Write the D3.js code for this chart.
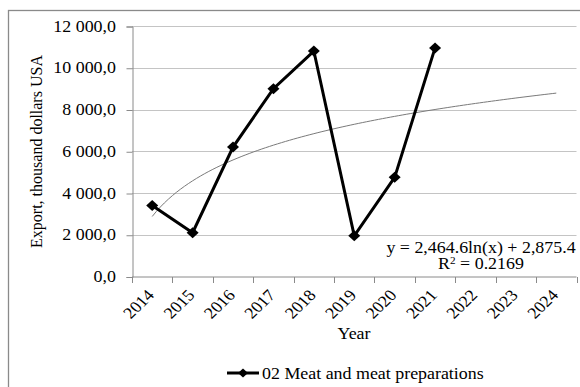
<!DOCTYPE html>
<html>
<head>
<meta charset="utf-8">
<script src="https://cdn.jsdelivr.net/npm/d3@7"></script>
<style>
  body { margin: 0; background: #fff; }
  svg { display: block; }
  text { font-family: "Liberation Serif", "Times New Roman", serif; fill: #000; }
</style>
</head>
<body>
<svg id="chart" width="580" height="387"></svg>
<script>
// Export of meat and meat preparations, thousand dollars USA
const years = ["2014", "2015", "2016", "2017", "2018", "2019", "2020", "2021", "2022", "2023", "2024"];
const exportYears = ["2014", "2015", "2016", "2017", "2018", "2019", "2020", "2021"];
const exportValues = [3400, 2100, 6200, 9000, 10800, 1950, 4750, 10950];
const yTicks = [0, 2000, 4000, 6000, 8000, 10000, 12000];
const seriesName = "02 Meat and meat preparations";
const yTitle = "Export, thousand dollars USA";
const xTitle = "Year";
// logarithmic trend y = a*ln(x) + b, x = 1..11
const trendA = 2464.6;
const trendB = 2875.4;
const trendR2 = 0.2169;

const svg = d3.select("#chart");
const W = 580, H = 387;
const plot = { left: 132, right: 576.5, top: 26, bottom: 276.5 };
const sx = 1.12; // horizontal text widening

// outer frame
svg.append("rect")
  .attr("x", 8.5).attr("y", 10.5)
  .attr("width", W + 20).attr("height", H + 20)
  .attr("fill", "none").attr("stroke", "#8a8a8a").attr("stroke-width", 1.3);

const x = d3.scaleBand().domain(years).range([plot.left, plot.right]).padding(0);
const y = d3.scaleLinear().domain([0, 12000]).range([plot.bottom, plot.top]);
const xc = d => x(d) + x.bandwidth() / 2;

const ruLocale = d3.formatLocale({ decimal: ",", thousands: "\u00a0", grouping: [3], currency: ["", ""] });
const fmtTick = ruLocale.format(",.1f");

// horizontal gridlines
svg.append("g").selectAll("line")
  .data(yTicks.filter(v => v > 0))
  .join("line")
  .attr("x1", plot.left).attr("x2", plot.right)
  .attr("y1", d => Math.round(y(d)) + 0.5).attr("y2", d => Math.round(y(d)) + 0.5)
  .attr("stroke", "#c4c4c4").attr("stroke-width", 1);

// y axis
const yAxis = d3.axisLeft(y).tickValues(yTicks).tickSize(6).tickFormat("");
const gy = svg.append("g").attr("transform", `translate(${plot.left + 0.5},0.5)`).call(yAxis);
gy.select(".domain").attr("stroke", "#8a8a8a");
gy.selectAll(".tick line").attr("stroke", "#8a8a8a");

svg.append("g").selectAll("text")
  .data(yTicks)
  .join("text")
  .attr("transform", d => `translate(116,${y(d) + 5.5}) scale(${sx},1)`)
  .attr("text-anchor", "end")
  .attr("font-size", 16)
  .text(d => fmtTick(d));

// x axis with ticks on category boundaries
const gx = svg.append("g").attr("transform", `translate(0,${plot.bottom + 0.5})`);
gx.append("line")
  .attr("x1", plot.left).attr("x2", plot.right)
  .attr("stroke", "#8a8a8a");
const bounds = years.map(d => x(d)).concat([plot.right]);
gx.selectAll("line.tk")
  .data(bounds)
  .join("line").attr("class", "tk")
  .attr("x1", d => Math.round(d) + 0.5).attr("x2", d => Math.round(d) + 0.5)
  .attr("y1", 0).attr("y2", 6)
  .attr("stroke", "#8a8a8a");

svg.append("g").selectAll("text")
  .data(years)
  .join("text")
  .attr("transform", d => `translate(${xc(d) + 3},296) scale(${sx},1) rotate(-47)`)
  .attr("text-anchor", "end")
  .attr("font-size", 16)
  .text(d => d);

// axis titles
svg.append("text")
  .attr("transform", `translate(354,339) scale(${sx},1)`)
  .attr("text-anchor", "middle")
  .attr("font-size", 16)
  .text(xTitle);

svg.append("text")
  .attr("transform", `translate(42,151.5) rotate(-90)`)
  .attr("text-anchor", "middle")
  .attr("font-size", 16)
  .text(yTitle);

// logarithmic trend line
const xIdx = d3.scaleLinear().domain([1, years.length]).range([xc(years[0]), xc(years[years.length - 1])]);
const trendPts = d3.range(1, years.length + 0.001, 0.1).map(t => [xIdx(t), y(trendA * Math.log(t) + trendB)]);
svg.append("path")
  .attr("d", d3.line()(trendPts))
  .attr("fill", "none").attr("stroke", "#7a7a7a").attr("stroke-width", 1);

// data series
const series = exportYears.map((d, i) => ({ year: d, value: exportValues[i] }));
svg.append("path")
  .datum(series)
  .attr("d", d3.line().x(d => xc(d.year)).y(d => y(d.value)))
  .attr("fill", "none").attr("stroke", "#000").attr("stroke-width", 3)
  .attr("stroke-linejoin", "miter");

const diamond = (cx, cy, w, h) => `M${cx},${cy - h / 2}L${cx + w / 2},${cy}L${cx},${cy + h / 2}L${cx - w / 2},${cy}Z`;
svg.append("g").selectAll("path")
  .data(series)
  .join("path")
  .attr("d", d => diamond(xc(d.year), y(d.value), 12, 11))
  .attr("fill", "#000");

// trend equation
const fmtEq = d3.format(",.1f");
svg.append("text")
  .attr("transform", `translate(481,252.5) scale(${sx},1)`)
  .attr("text-anchor", "middle")
  .attr("font-size", 16)
  .text(`y = ${fmtEq(trendA)}ln(x) + ${fmtEq(trendB)}`);
const r2 = svg.append("text")
  .attr("transform", `translate(481,269) scale(${sx},1)`)
  .attr("text-anchor", "middle")
  .attr("font-size", 16);
r2.append("tspan").text("R");
r2.append("tspan").attr("font-size", 10).attr("dy", -5).text("2");
r2.append("tspan").attr("dy", 5).text(` = ${trendR2}`);

// legend
const lg = svg.append("g");
lg.append("line")
  .attr("x1", 227).attr("x2", 259).attr("y1", 373).attr("y2", 373)
  .attr("stroke", "#000").attr("stroke-width", 3);
lg.append("path").attr("d", diamond(243, 373, 10, 9)).attr("fill", "#000");
lg.append("text")
  .attr("transform", `translate(262,379) scale(${sx},1)`)
  .attr("font-size", 16)
  .text(seriesName);
</script>
</body>
</html>
